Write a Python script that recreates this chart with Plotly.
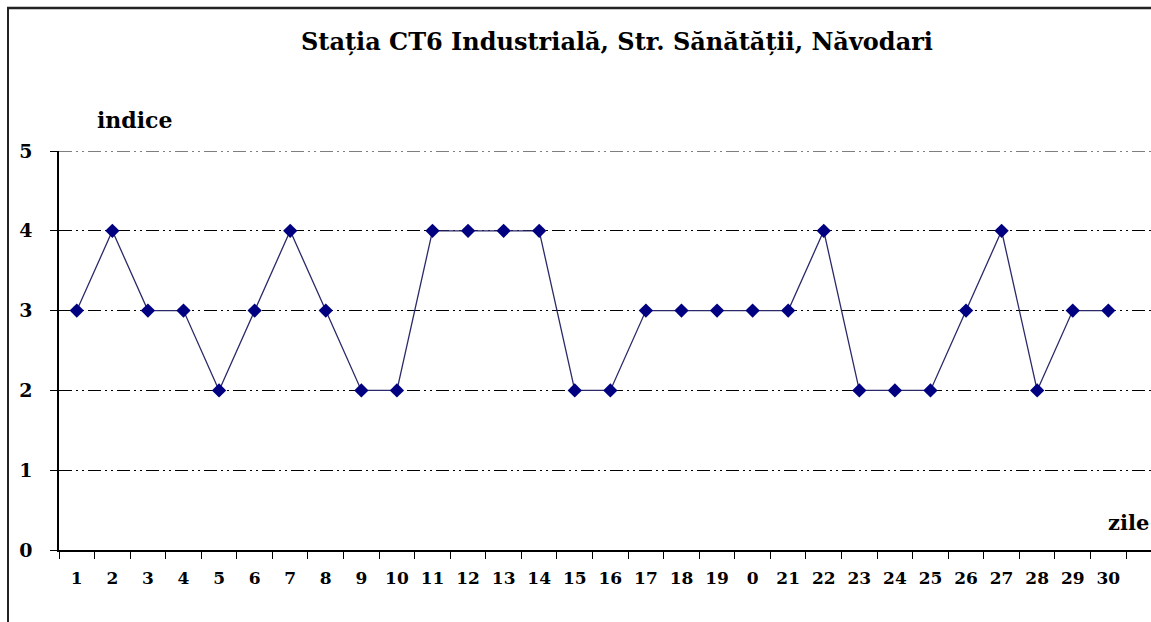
import plotly.graph_objects as go

days = ["1","2","3","4","5","6","7","8","9","10","11","12","13","14","15","16","17","18","19","0",
        "21","22","23","24","25","26","27","28","29","30"]
indice = [3,4,3,3,2,3,4,3,2,2,4,4,4,4,2,2,3,3,3,3,3,4,2,2,2,3,4,2,3,3]
y_ticks = [0,1,2,3,4,5]

SERIF = "DejaVu Serif"
GRID_DASH = "13px,4px,2px,4px,2px,4px"

W, H = 1151, 622
L, R, T, B = 59, 0, 151, 72
PW, PH = W - L - R, H - T - B

def px(xp):  # page x -> paper x
    return (xp - L) / PW

def py(yp):  # page y -> paper y
    return (H - B - yp) / PH

fig = go.Figure()
fig.add_trace(go.Scatter(
    x=days, y=indice, mode="lines+markers",
    line=dict(color="#2a2a6a", width=1.3),
    marker=dict(symbol="diamond", size=11, color="#000080"),
    showlegend=False, cliponaxis=False,
))

fig.update_layout(
    width=W, height=H,
    margin=dict(l=L, r=R, t=T, b=B),
    paper_bgcolor="white", plot_bgcolor="white",
    title=dict(text="Stația CT6 Industrială, Str. Sănătății, Năvodari",
               x=617 / W, xanchor="center",
               y=1 - 42 / H, yanchor="middle",
               font=dict(family=SERIF, size=24, color="black", weight="bold")),
    xaxis=dict(type="category", range=[-0.5, 30.2], tickson="boundaries",
               showline=True, linecolor="black", linewidth=1.5,
               ticks="outside", ticklen=7, tickcolor="black", tickwidth=1.3,
               showgrid=False, zeroline=False,
               tickfont=dict(family=SERIF, size=17, color="black", weight="bold"),
               ticklabelstandoff=12),
    yaxis=dict(range=[0, 5.0], tickvals=y_ticks,
               showline=True, linecolor="black", linewidth=1.5,
               ticks="outside", ticklen=7, tickcolor="black", tickwidth=1.3,
               showgrid=True, gridcolor="black", gridwidth=1,
               griddash=GRID_DASH,
               zeroline=False,
               tickfont=dict(family=SERIF, size=19, color="black", weight="bold"),
               ticklabelstandoff=14),
    annotations=[
        dict(text="indice", xref="paper", yref="paper",
             x=px(135), y=py(120), xanchor="center", yanchor="middle",
             showarrow=False, font=dict(family=SERIF, size=22, color="black", weight="bold")),
        dict(text="zile", xref="paper", yref="paper",
             x=1.0, y=py(522), xanchor="right", yanchor="middle",
             showarrow=False, font=dict(family=SERIF, size=21, color="black", weight="bold")),
    ],
    shapes=[
        # top gridline (plotly omits the gridline at the range edge)
        dict(type="line", xref="paper", yref="y", x0=0, x1=1, y0=y_ticks[-1], y1=y_ticks[-1],
             line=dict(color="black", width=1, dash=GRID_DASH), layer="below"),
        # outer chart frame (left and top edges visible)
        dict(type="line", xref="paper", yref="paper", x0=px(8), x1=px(8), y0=py(640), y1=py(7),
             line=dict(color="#222", width=2)),
        dict(type="line", xref="paper", yref="paper", x0=px(7), x1=px(1160), y0=py(8), y1=py(8),
             line=dict(color="#222", width=2.5)),
    ],
)

fig.write_html(
    "out.html",
    config={"displayModeBar": False},
    post_script="document.body.style.margin='0';document.documentElement.style.overflow='hidden';document.body.style.overflow='hidden';",
)
